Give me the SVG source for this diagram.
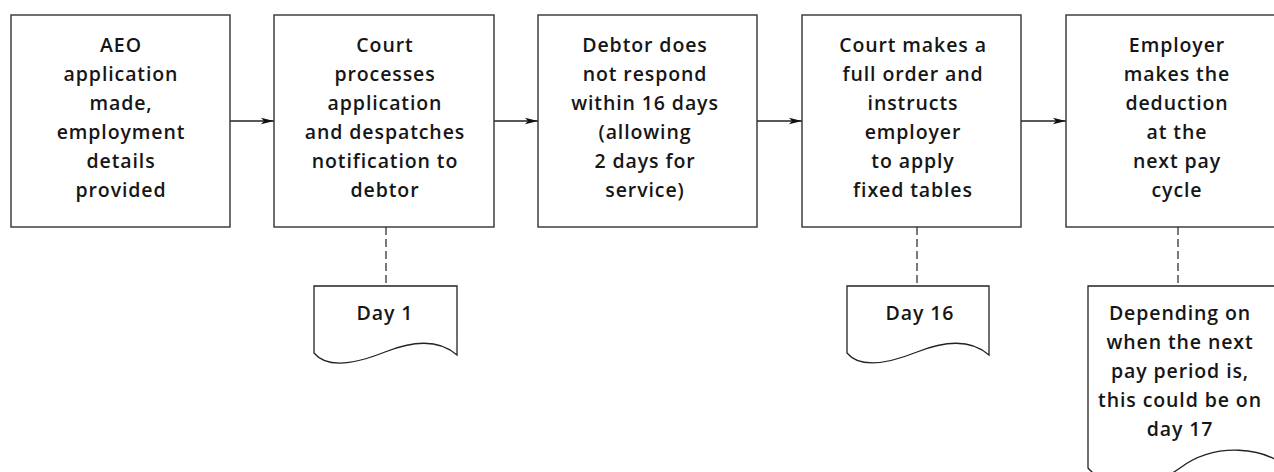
<svg xmlns="http://www.w3.org/2000/svg" width="1274" height="472" viewBox="0 0 1274 472">
  <style>
    .box { fill: #ffffff; stroke: #333333; stroke-width: 1.4; }
    .doc { fill: #ffffff; stroke: #222222; stroke-width: 1.3; }
    .flow { fill: none; stroke: #222222; stroke-width: 1.3; }
    .link { fill: none; stroke: #333333; stroke-width: 1.3; stroke-dasharray: 8 4; }
    text { font-family: "Open Sans", "Liberation Sans", sans-serif; font-weight: 600; font-size: 19.5px; fill: #161616; text-anchor: middle; letter-spacing: 0.9px; }
  </style>
  <defs>
    <marker id="arrow" markerWidth="14" markerHeight="8" refX="13" refY="4" orient="auto" markerUnits="userSpaceOnUse">
      <path d="M0,0.8 L13,4 L0,7.2 L3,4 Z" fill="#111111"/>
    </marker>
  </defs>

  <rect width="1274" height="472" fill="#ffffff"/>

  <!-- connectors -->
  <g id="connectors">
    <line class="flow" x1="230" y1="121" x2="274" y2="121" marker-end="url(#arrow)"/>
    <line class="flow" x1="494" y1="121" x2="538" y2="121" marker-end="url(#arrow)"/>
    <line class="flow" x1="757" y1="121" x2="802" y2="121" marker-end="url(#arrow)"/>
    <line class="flow" x1="1021" y1="121" x2="1066" y2="121" marker-end="url(#arrow)"/>
    <line class="link" x1="386" y1="227" x2="386" y2="286"/>
    <line class="link" x1="917" y1="227" x2="917" y2="286"/>
    <line class="link" x1="1178" y1="227" x2="1178" y2="286"/>
  </g>

  <!-- process steps -->
  <g id="step-application">
    <rect class="box" x="11" y="15" width="219" height="212"/>
    <text x="121" y="52">AEO</text>
    <text x="121" y="81">application</text>
    <text x="121" y="110">made,</text>
    <text x="121" y="139">employment</text>
    <text x="121" y="168">details</text>
    <text x="121" y="197">provided</text>
  </g>

  <g id="step-court-processes">
    <rect class="box" x="274" y="15" width="220" height="212"/>
    <text x="385" y="52">Court</text>
    <text x="385" y="81">processes</text>
    <text x="385" y="110">application</text>
    <text x="385" y="139">and despatches</text>
    <text x="385" y="168">notification to</text>
    <text x="385" y="197">debtor</text>
  </g>

  <g id="step-no-response">
    <rect class="box" x="538" y="15" width="219" height="212"/>
    <text x="645" y="52">Debtor does</text>
    <text x="645" y="81">not respond</text>
    <text x="645" y="110">within 16 days</text>
    <text x="645" y="139">(allowing</text>
    <text x="645" y="168">2 days for</text>
    <text x="645" y="197">service)</text>
  </g>

  <g id="step-full-order">
    <rect class="box" x="802" y="15" width="219" height="212"/>
    <text x="913" y="52">Court makes a</text>
    <text x="913" y="81">full order and</text>
    <text x="913" y="110">instructs</text>
    <text x="913" y="139">employer</text>
    <text x="913" y="168">to apply</text>
    <text x="913" y="197">fixed tables</text>
  </g>

  <g id="step-deduction">
    <rect class="box" x="1066" y="15" width="220" height="212"/>
    <text x="1177" y="52">Employer</text>
    <text x="1177" y="81">makes the</text>
    <text x="1177" y="110">deduction</text>
    <text x="1177" y="139">at the</text>
    <text x="1177" y="168">next pay</text>
    <text x="1177" y="197">cycle</text>
  </g>

  <!-- timing notes -->
  <g id="note-day-1">
    <path class="doc" d="M314,286 H457 V355 C440,340 415,340 385,352 C360,362 328,370 314,353 Z"/>
    <text x="385" y="320">Day 1</text>
  </g>

  <g id="note-day-16">
    <path class="doc" d="M847,286 H989 V355 C972,340 947,340 917,352 C892,362 861,370 847,353 Z"/>
    <text x="920" y="320">Day 16</text>
  </g>

  <g id="note-day-17">
    <path class="doc" d="M1088,286 H1290 V470 C1265,446 1215,442 1180,468 C1150,490 1105,488 1088,468 Z"/>
    <text x="1180" y="320">Depending on</text>
    <text x="1180" y="349">when the next</text>
    <text x="1180" y="378">pay period is,</text>
    <text x="1180" y="407">this could be on</text>
    <text x="1180" y="436">day 17</text>
  </g>
</svg>
